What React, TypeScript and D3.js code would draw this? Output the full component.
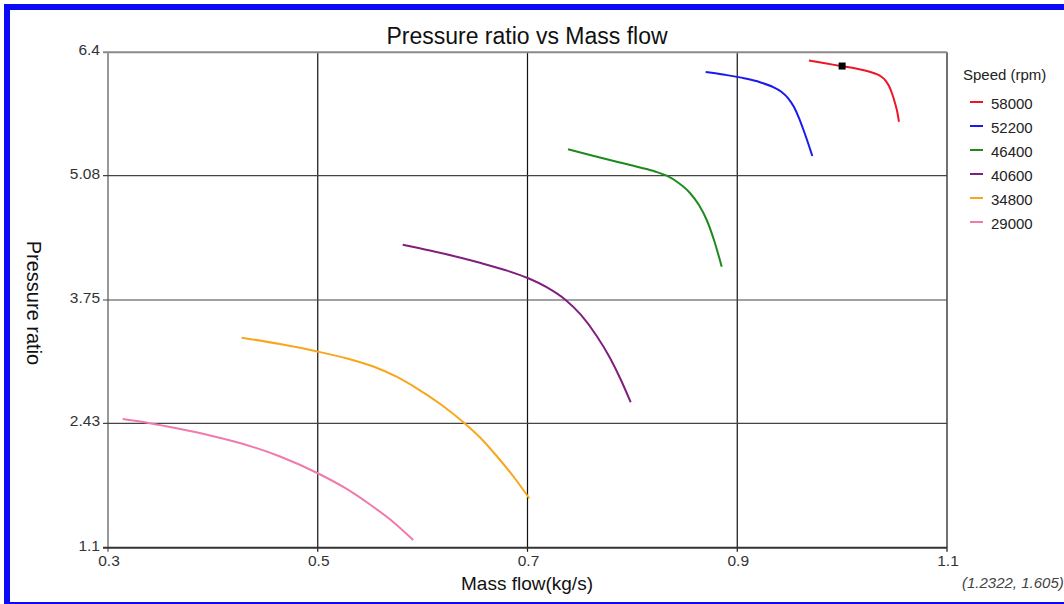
import React from "react";
import * as d3 from "d3";

const speeds = ["58000", "52200", "46400", "40600", "34800", "29000"];
const seriesColors = ["#f01428", "#1a1aee", "#1e8a1e", "#80207e", "#f9a61c", "#f07aac"];

const flow58000 = [0.9684, 0.9837, 0.9999, 1.0132, 1.0237, 1.0313, 1.0371, 1.0414, 1.0447, 1.0476, 1.0504, 1.0526, 1.0542];
const pr58000 = [6.312, 6.283, 6.251, 6.226, 6.2, 6.173, 6.141, 6.098, 6.039, 5.959, 5.858, 5.761, 5.657];
const flow52200 = [0.8699, 0.8883, 0.9074, 0.9217, 0.9331, 0.9417, 0.9484, 0.9541, 0.9589, 0.9632, 0.9675, 0.9716];
const pr52200 = [6.189, 6.159, 6.12, 6.08, 6.034, 5.981, 5.911, 5.815, 5.697, 5.569, 5.43, 5.291];
const flow46400 = [0.7386, 0.7596, 0.7851, 0.8073, 0.8216, 0.8327, 0.8435, 0.8549, 0.8635, 0.8709, 0.8778, 0.8852];
const pr46400 = [5.362, 5.301, 5.23, 5.168, 5.125, 5.08, 5.007, 4.895, 4.766, 4.606, 4.392, 4.106];
const flow40600 = [0.581, 0.607, 0.6325, 0.6547, 0.6785, 0.7002, 0.7186, 0.7358, 0.751, 0.766, 0.7787, 0.7891, 0.7984];
const pr40600 = [4.342, 4.28, 4.213, 4.148, 4.071, 3.985, 3.884, 3.755, 3.59, 3.365, 3.129, 2.894, 2.656];
const flow34800 = [0.4275, 0.464, 0.5005, 0.5279, 0.553, 0.5746, 0.5944, 0.6175, 0.6397, 0.6557, 0.6706, 0.6862, 0.7017];
const pr34800 = [3.347, 3.279, 3.197, 3.124, 3.039, 2.932, 2.805, 2.632, 2.434, 2.268, 2.081, 1.867, 1.628];
const flow29000 = [0.314, 0.34, 0.3655, 0.3973, 0.429, 0.464, 0.5005, 0.526, 0.5498, 0.5708, 0.591];
const pr29000 = [2.477, 2.432, 2.377, 2.3, 2.209, 2.076, 1.894, 1.739, 1.562, 1.386, 1.182];

const markerFlow = [1.0];
const markerPr = [6.253];

const xTicks = [0.3, 0.5, 0.7, 0.9, 1.1];
const xTickLabels = ["0.3", "0.5", "0.7", "0.9", "1.1"];
const yTicks = [1.1, 2.43, 3.75, 5.08, 6.4];
const yTickLabels = ["1.1", "2.43", "3.75", "5.08", "6.4"];

const title = "Pressure ratio vs Mass flow";
const xTitle = "Mass flow(kg/s)";
const yTitle = "Pressure ratio";
const legendTitle = "Speed (rpm)";
const cursorText = "(1.2322, 1.605)";

const flows = [flow58000, flow52200, flow46400, flow40600, flow34800, flow29000];
const prs = [pr58000, pr52200, pr46400, pr40600, pr34800, pr29000];

const FONT = "'Liberation Sans', Arial, sans-serif";

export default function App() {
  const W = 1064;
  const H = 604;
  const x = d3.scaleLinear().domain([0.3, 1.1]).range([108, 947]);
  const y = d3.scaleLinear().domain([1.1, 6.4]).range([547.7, 52.3]);
  const line = d3
    .line<[number, number]>()
    .x((d) => x(d[0]))
    .y((d) => y(d[1]))
    .curve(d3.curveMonotoneX);

  const x0 = x(0.3);
  const x1 = x(1.1);
  const yTop = y(6.4);
  const yBot = y(1.1);

  return (
    <svg
      width={W}
      height={H}
      style={{ position: "absolute", left: 0, top: 0, background: "#fff" }}
      fontFamily={FONT}
    >
      <rect x={0} y={0} width={W} height={H} fill="#fff" />
      <rect x={7} y={7} width={1100} height={598} fill="none" stroke="#0a0af5" strokeWidth={6} />

      <text x={527} y={44} textAnchor="middle" fontSize={23} fill="#111">
        {title}
      </text>

      {/* gridlines */}
      {xTicks.map((t, i) => (
        <line
          key={"xg" + i}
          x1={x(t)}
          x2={x(t)}
          y1={yTop}
          y2={yBot + 4}
          stroke={i === 0 ? "#555" : "#111"}
          strokeWidth={1.2}
        />
      ))}
      {yTicks.map((t, i) => (
        <line
          key={"yg" + i}
          x1={x0 - 5}
          x2={x1}
          y1={y(t)}
          y2={y(t)}
          stroke={i === yTicks.length - 1 ? "#8a8a8a" : i === 0 ? "#333" : "#444"}
          strokeWidth={i === 0 || i === yTicks.length - 1 ? 2 : 1.2}
        />
      ))}

      {/* tick labels */}
      {xTicks.map((t, i) => (
        <text key={"xl" + i} x={x(t) + 1} y={566} textAnchor="middle" fontSize={15.5} fill="#333">
          {xTickLabels[i]}
        </text>
      ))}
      {yTicks.map((t, i) => (
        <text key={"yl" + i} x={100} y={y(t) + 3} textAnchor="end" fontSize={15.5} fill="#333">
          {yTickLabels[i]}
        </text>
      ))}

      <text x={527} y={590} textAnchor="middle" fontSize={19} fill="#111">
        {xTitle}
      </text>
      <text
        transform={`translate(27, 303) rotate(90)`}
        textAnchor="middle"
        fontSize={20}
        fill="#111"
      >
        {yTitle}
      </text>

      {/* series */}
      {flows.map((f, i) => {
        const pts: [number, number][] = f.map((v, j) => [v, prs[i][j]]);
        return (
          <path
            key={"s" + i}
            d={line(pts) || ""}
            fill="none"
            stroke={seriesColors[i]}
            strokeWidth={2}
          />
        );
      })}

      {markerFlow.map((m, i) => (
        <rect
          key={"m" + i}
          x={x(m) - 3.5}
          y={y(markerPr[i]) - 3.5}
          width={7}
          height={7}
          fill="#000"
        />
      ))}

      {/* legend */}
      <text x={963} y={80} fontSize={15} fill="#222">
        {legendTitle}
      </text>
      {speeds.map((s, i) => (
        <g key={"lg" + i}>
          <line
            x1={970}
            x2={983}
            y1={102 + i * 24}
            y2={102 + i * 24}
            stroke={seriesColors[i]}
            strokeWidth={2}
          />
          <text x={991} y={109 + i * 24} fontSize={15} fill="#222">
            {s}
          </text>
        </g>
      ))}

      <text x={962} y={588} fontSize={15} fontStyle="italic" fill="#444">
        {cursorText}
      </text>
    </svg>
  );
}
